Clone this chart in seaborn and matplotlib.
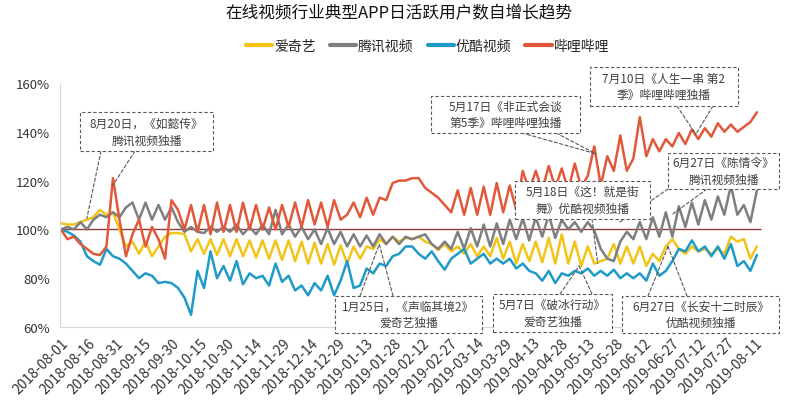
import matplotlib
matplotlib.use("Agg")
import matplotlib.pyplot as plt
import matplotlib.dates as mdates
from matplotlib.patches import Rectangle
from matplotlib.lines import Line2D
import pandas as pd
import seaborn as sns

# ---- data (~every half week) ----
series_names = ["爱奇艺", "腾讯视频", "优酷视频", "哔哩哔哩"]
series_colors = ["#F2C418", "#7F7F7F", "#1F9BC8", "#E2583A"]

iqiyi = [102.5, 102, 102, 103, 104, 105, 108, 106, 107, 100,
         93, 95, 90, 95, 89, 93, 97, 98.5, 98.5, 98,
         91, 96, 90, 96, 89.5, 96, 89, 96, 89, 95.5,
         88.5, 95.5, 88, 95.5, 87.5, 95.5, 87, 95, 86, 94.5,
         86, 94, 85.5, 93.5, 86, 93, 88, 93, 92, 96,
         94, 97, 95, 96.5, 96, 97, 95, 94, 91.5, 94,
         91, 93, 90, 94, 89, 93, 89, 96.5, 88, 95,
         86, 94, 87, 95, 86.5, 96.5, 86, 98, 86, 95,
         85, 93, 86, 87, 88, 94, 86, 93, 86, 93,
         85, 90, 87, 93, 96, 92, 90, 93, 91, 92,
         90, 92, 90, 97, 95, 96, 88, 93]

tencent = [100, 101, 100, 103, 100, 104, 106, 105, 107, 105,
           109, 111, 104, 111, 104, 110, 104, 109, 103, 99,
           101, 99, 98.5, 101, 99, 101, 99, 102, 98, 101,
           98, 102, 98, 108, 98, 102, 97, 101, 96, 100,
           94, 100.5, 94, 99, 93, 98, 93, 97.5, 93, 98,
           94, 97, 94, 97, 96, 97, 98, 94, 92, 95,
           92, 99, 92, 100.5, 93, 102, 93, 102.5, 94, 104,
           96, 104.5, 95.5, 105, 97, 106, 96.5, 104, 100, 103,
           99, 103, 99.5, 92, 88, 87, 95, 99, 96, 103,
           96, 105, 97, 107, 97, 109.5, 101, 111, 102, 112,
           104, 113.5, 106, 118, 106, 110, 103, 116]

youku = [100, 99, 97.5, 95, 89, 87, 85.5, 92, 89, 88,
         86, 83, 80, 82, 81, 78, 78.5, 78, 76, 72,
         65, 83, 76, 91, 80, 85, 79, 87, 77.5, 82,
         80, 81, 77, 86, 78.5, 81, 75, 77, 73, 78,
         75, 81, 73, 79, 87, 76, 77, 84, 82, 86,
         85, 89, 90, 93, 93, 90, 88, 91, 87, 83.5,
         88, 90, 92, 86, 88, 90, 86, 88, 86, 88,
         84, 86, 83, 82, 79, 83, 78, 82, 81, 83,
         82, 84, 81, 83, 81, 83.5, 80, 82, 80, 82,
         79, 86, 81, 83, 87, 92, 91, 95.5, 91, 93,
         89, 93, 88, 94, 85, 87, 83, 89.5]

bilibili = [100, 96, 97, 94, 92, 90, 89.5, 93, 121, 104,
            89, 98, 104, 93, 101, 96, 88, 112, 108, 100,
            110, 99, 110, 98, 111, 99, 110, 99, 111, 100,
            110, 100, 109, 100, 110, 101, 111, 101, 112, 102,
            111, 101, 112, 104, 106, 111, 105, 113, 106, 113,
            112, 119, 120, 120, 121, 121, 117, 115, 113, 110,
            107, 116, 106, 117, 106, 117.5, 106, 119, 107, 118,
            108, 124, 116, 124, 116, 126, 117, 125, 116, 127,
            117, 122, 134, 118, 130, 124, 138.5, 124, 129, 146,
            130, 137, 132, 137, 134, 139.5, 135, 141, 137, 141.5,
            138, 143.5, 140, 143, 140, 142, 144, 148]

start_date = "2018-08-01"
end_date = "2019-08-12"
tick_dates = pd.date_range("2018-08-01", "2019-08-11", freq="15D")
y_ticks = [60, 80, 100, 120, 140, 160]

# callouts: text, box in pixels (x0, y0, x1, y1), connectors (start px, (date, value))
notes = [
    ("8月20日，《如懿传》\n腾讯视频独播", (80, 113, 213, 152),
     [((101, 152), ("2018-08-15", 104.5)), ((135, 152), ("2018-08-29", 118))]),
    ("5月17日《非正式会谈\n第5季》哔哩哔哩独播", (431, 97, 580, 134),
     [((522, 134), ("2019-05-17", 131)), ((556, 134), ("2019-05-17", 131))]),
    ("7月10日《人生一串 第2\n季》哔哩哔哩独播", (590, 68, 738, 107),
     [((677, 107), ("2019-07-10", 139)), ((713, 107), ("2019-07-10", 139))]),
    ("5月18日《这！就是街\n舞》优酷视频独播", (515, 182, 650, 220),
     [((592, 220), ("2019-05-18", 86))]),
    ("6月27日《陈情令》\n腾讯视频独播", (668, 154, 779, 190),
     [((668, 190), ("2019-05-30", 103)), ((707, 190), ("2019-06-27", 106))]),
    ("1月25日，《声临其境2》\n爱奇艺独播", (335, 297, 482, 334),
     [((360, 297), ("2019-01-20", 94)), ((393, 297), ("2019-01-20", 94))]),
    ("5月7日《破冰行动》\n爱奇艺独播", (493, 295, 612, 333),
     [((560, 295), ("2019-05-08", 85)), ((592, 295), ("2019-05-08", 85))]),
    ("6月27日《长安十二时辰》\n优酷视频独播", (622, 297, 779, 334),
     [((648, 297), ("2019-06-25", 93)), ((687, 297), ("2019-06-25", 93))]),
]

W, H = 799, 402


def fig_xy(px, py):
    return (px / W, 1 - py / H)


frames = []
for name, vals in zip(series_names, [iqiyi, tencent, youku, bilibili]):
    frames.append(pd.DataFrame({
        "date": pd.date_range(start_date, end_date, periods=len(vals)),
        "value": vals,
        "series": name,
    }))
df = pd.concat(frames, ignore_index=True)

sns.set_style("white")
plt.rcParams["font.family"] = ["Noto Sans CJK SC", "DejaVu Sans"]

fig = plt.figure(figsize=(W / 100, H / 100), dpi=100)
ax = fig.add_axes([60 / W, 74 / H, 708 / W, 244 / H])

ax.hlines(100, pd.Timestamp(start_date), pd.Timestamp(end_date) + pd.Timedelta(days=2),
          color="#8E3B3B", lw=1, zorder=1.5)
sns.lineplot(data=df, x="date", y="value", hue="series", hue_order=series_names,
             palette=dict(zip(series_names, series_colors)), linewidth=1.8,
             ax=ax, legend=False)

ax.set_xlim(pd.Timestamp(start_date) - pd.Timedelta(hours=12),
            pd.Timestamp(start_date) + pd.Timedelta(days=382))
ax.set_ylim(60, 160)
ax.set_yticks(y_ticks)
ax.set_yticklabels([f"{v}%" for v in y_ticks])
ax.set_xticks(tick_dates)
ax.set_xticklabels([d.strftime("%Y-%m-%d") for d in tick_dates],
                   rotation=45, ha="right", rotation_mode="anchor")
ax.tick_params(length=0, colors="#333333")
ax.tick_params(axis="y", labelsize=9.5, pad=7)
ax.tick_params(axis="x", labelsize=10, pad=6)
ax.set_xlabel("")
ax.set_ylabel("")
for s in ["top", "right"]:
    ax.spines[s].set_visible(False)
for s in ["left", "bottom"]:
    ax.spines[s].set_color("#D9D9D9")

# callout boxes and dashed leader lines
for text, (x0, y0, x1, y1), links in notes:
    for (sx, sy), (d, v) in links:
        ax.annotate("", xy=(mdates.date2num(pd.Timestamp(d)), v), xycoords="data",
                    xytext=fig_xy(sx, sy), textcoords="figure fraction",
                    arrowprops=dict(arrowstyle="-", color="#595959", lw=0.8,
                                    linestyle=(0, (3, 2)), shrinkA=0, shrinkB=0),
                    zorder=4, annotation_clip=False)
    bx, by = fig_xy(x0, y1)
    ax.add_patch(Rectangle((bx, by), (x1 - x0) / W, (y1 - y0) / H,
                           transform=fig.transFigure, facecolor="white",
                           edgecolor="#595959", lw=0.8, linestyle=(0, (3, 2)),
                           clip_on=False, zorder=5))
    cx, cy = fig_xy((x0 + x1) / 2, (y0 + y1) / 2)
    ax.text(cx, cy, text, transform=fig.transFigure, ha="center", va="center",
            multialignment="center", fontsize=8.5, color="#404040",
            linespacing=1.35, zorder=6, clip_on=False)

handles = [Line2D([], [], color=c, lw=3) for c in series_colors]
fig.legend(handles, series_names, loc="center", bbox_to_anchor=fig_xy(427.5, 47),
           ncol=4, frameon=False, fontsize=10, handlelength=1.9,
           handletextpad=0.15, columnspacing=1.0)

fig.text(398.5 / W, 1 - 14 / H, "在线视频行业典型APP日活跃用户数自增长趋势",
         ha="center", va="center", fontsize=12, color="#111111")

fig.savefig("out.png", dpi=100)
